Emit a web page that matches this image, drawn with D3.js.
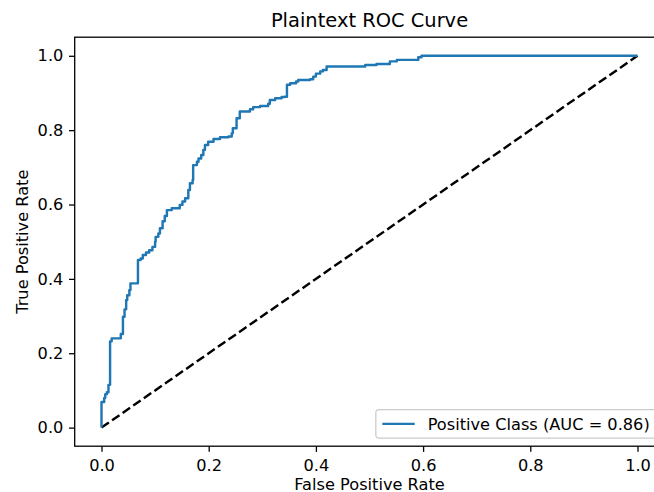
<!DOCTYPE html>
<html>
<head>
<meta charset="utf-8">
<script src="https://cdn.jsdelivr.net/npm/d3@7"></script>
<style>
  body { margin: 0; background: #fff; }
  svg { display: block; }
  text { font-family: "DejaVu Sans", sans-serif; fill: #000; }
</style>
</head>
<body>
<div id="chart"></div>
<script>
// corner points of the ROC staircase (each point = top of a vertical riser)
const fpr = [0, 0, 0.005, 0.007, 0.010, 0.013, 0.016, 0.019, 0.036, 0.040, 0.043, 0.046,
  0.048, 0.052, 0.054, 0.068, 0.073, 0.077, 0.083, 0.089, 0.095, 0.100, 0.101, 0.106,
  0.109, 0.114, 0.118, 0.122, 0.131, 0.146, 0.151, 0.156, 0.162, 0.165, 0.170, 0.171,
  0.178, 0.181, 0.186, 0.190, 0.193, 0.199, 0.209, 0.221, 0.237, 0.243, 0.245, 0.252,
  0.258, 0.277, 0.283, 0.296, 0.311, 0.314, 0.324, 0.336, 0.342, 0.346, 0.352, 0.363,
  0.367, 0.389, 0.395, 0.400, 0.408, 0.413, 0.420, 0.492, 0.513, 0.538, 0.551, 0.591,
  0.597, 1.0];
const tpr = [0, 0.069, 0.080, 0.090, 0.095, 0.115, 0.232, 0.240, 0.252, 0.298, 0.318, 0.343,
  0.356, 0.370, 0.388, 0.451, 0.455, 0.464, 0.471, 0.477, 0.486, 0.500, 0.513, 0.522,
  0.536, 0.555, 0.569, 0.585, 0.590, 0.599, 0.608, 0.617, 0.639, 0.657, 0.666, 0.706,
  0.715, 0.724, 0.733, 0.747, 0.760, 0.769, 0.776, 0.781, 0.783, 0.792, 0.805, 0.832,
  0.850, 0.856, 0.862, 0.865, 0.871, 0.881, 0.886, 0.889, 0.890, 0.922, 0.926, 0.931,
  0.935, 0.937, 0.944, 0.952, 0.958, 0.962, 0.971, 0.975, 0.978, 0.985, 0.989, 0.996,
  1.0, 1.0];
const chance = [[0, 0], [1, 1]];
const xTicks = [0, 0.2, 0.4, 0.6, 0.8, 1.0];
const yTicks = [0, 0.2, 0.4, 0.6, 0.8, 1.0];
const title = "Plaintext ROC Curve";
const xLabel = "False Positive Rate";
const yLabel = "True Positive Rate";
const legendLabel = "Positive Class (AUC = 0.86)";

(function() {
  var W = 654, H = 492;
  var pt = 1.62;          // px per point
  var fs = 10 * pt;       // base font size
  var plotL = 74.7, plotR = 664.3, plotT = 37.2, plotB = 446.2;

  var x = d3.scaleLinear().domain([-0.05, 1.05]).range([plotL, plotR]);
  var y = d3.scaleLinear().domain([-0.05, 1.05]).range([plotB, plotT]);

  var svg = d3.select('#chart').append('svg')
    .attr('width', W)
    .attr('height', H);

  // lines
  var roc = fpr.map(function(f, i) { return [f, tpr[i]]; });
  var line = d3.line()
    .x(function(d) { return x(d[0]); })
    .y(function(d) { return y(d[1]); });

  svg.append('path')
    .datum(chance)
    .attr('d', line)
    .attr('fill', 'none')
    .attr('stroke', '#000')
    .attr('stroke-width', 1.5 * pt)
    .attr('stroke-dasharray', (3.7 * 1.5 * pt) + ',' + (1.6 * 1.5 * pt));

  svg.append('path')
    .datum(roc)
    .attr('d', line.curve(d3.curveStepAfter))
    .attr('fill', 'none')
    .attr('stroke', '#1f77b4')
    .attr('stroke-width', 1.5 * pt)
    .attr('stroke-linejoin', 'round');

  // axes
  var xAxis = svg.append('g')
    .attr('transform', 'translate(0,' + plotB + ')')
    .call(d3.axisBottom(x).tickValues(xTicks).tickFormat(d3.format('.1f'))
      .tickSize(3.5 * pt).tickPadding(3.5 * pt + 2.2));
  var yAxis = svg.append('g')
    .attr('transform', 'translate(' + plotL + ',0)')
    .call(d3.axisLeft(y).tickValues(yTicks).tickFormat(d3.format('.1f'))
      .tickSize(3.5 * pt).tickPadding(3.5 * pt));

  [xAxis, yAxis].forEach(function(g) {
    g.select('.domain').remove();
    g.attr('font-size', null).attr('font-family', null);
    g.selectAll('line').attr('stroke', '#000').attr('stroke-width', 0.8 * pt);
    g.selectAll('text').style('font-size', fs + 'px');
  });

  // frame
  svg.append('rect')
    .attr('x', plotL)
    .attr('y', plotT)
    .attr('width', plotR - plotL)
    .attr('height', plotB - plotT)
    .attr('fill', 'none')
    .attr('stroke', '#000')
    .attr('stroke-width', 0.8 * pt);

  // labels
  svg.append('text')
    .attr('x', (plotL + plotR) / 2)
    .attr('y', plotT - 6 * pt)
    .attr('text-anchor', 'middle')
    .style('font-size', (12 * pt) + 'px')
    .text(title);

  svg.append('text')
    .attr('x', (plotL + plotR) / 2)
    .attr('y', 489.5)
    .attr('text-anchor', 'middle')
    .style('font-size', fs + 'px')
    .text(xLabel);

  svg.append('text')
    .attr('transform', 'translate(27.5,' + ((plotT + plotB) / 2) + ') rotate(-90)')
    .attr('text-anchor', 'middle')
    .style('font-size', fs + 'px')
    .text(yLabel);

  // legend, lower right
  var lg = svg.append('g');
  var box = lg.append('rect');
  var handleLen = 2 * fs, pad = 0.4 * fs, textPad = 0.8 * fs;
  var lgRight = plotR - 0.5 * fs, lgBottom = plotB - 0.5 * fs;
  var lgText = lg.append('text')
    .style('font-size', fs + 'px')
    .text(legendLabel);
  var tw = lgText.node().getComputedTextLength();
  var lgH = 1.76 * fs;
  var lgLeft = lgRight - (pad * 2 + handleLen + textPad + tw);
  var midY = lgBottom - lgH / 2;
  box.attr('x', lgLeft)
    .attr('y', lgBottom - lgH)
    .attr('width', lgRight - lgLeft)
    .attr('height', lgH)
    .attr('rx', 0.2 * fs)
    .attr('fill', '#fff')
    .attr('fill-opacity', 0.8)
    .attr('stroke', '#cccccc')
    .attr('stroke-width', 0.8 * pt);
  lg.append('line')
    .attr('x1', lgLeft + pad)
    .attr('x2', lgLeft + pad + handleLen)
    .attr('y1', midY)
    .attr('y2', midY)
    .attr('stroke', '#1f77b4')
    .attr('stroke-width', 1.5 * pt);
  lgText.attr('x', lgLeft + pad + handleLen + textPad)
    .attr('y', midY + 0.36 * fs);
})();
</script>
</body>
</html>
